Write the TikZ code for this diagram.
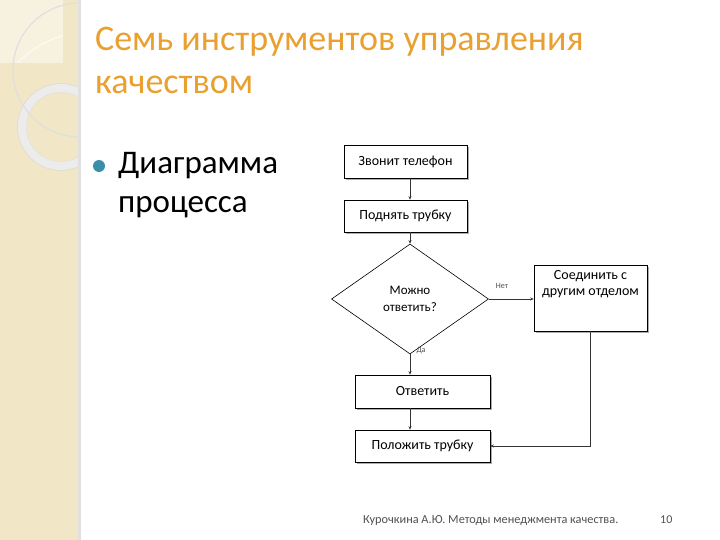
\documentclass[tikz,border=0pt]{standalone}
\usepackage{fontspec}
\setmainfont{Carlito}
\usetikzlibrary{shapes.geometric,shadows,arrows.meta}
\definecolor{titleorange}{RGB}{234,160,48}
\definecolor{bulletteal}{RGB}{58,142,168}
\definecolor{stripbeige}{RGB}{241,231,199}
\definecolor{footgray}{RGB}{80,80,80}
\tikzstyle{stepbox}=[rectangle,draw=black,fill=white,line width=0.6pt,
                     drop shadow={shadow xshift=1.8pt,shadow yshift=-1.8pt,
                                  fill=black!40,opacity=0.8},
                     inner sep=2pt,font=\fontsize{14}{16.5}\selectfont]
\tikzstyle{askbox}=[diamond,draw=black,fill=white,line width=0.6pt,
                    inner sep=0pt,minimum width=157pt,minimum height=110pt,
                    align=center,font=\fontsize{13}{17}\selectfont]
\tikzstyle{flow}=[draw=black!80,line width=0.6pt,-{Stealth[length=3.5pt,width=3pt]}]
\tikzstyle{tiny}=[font=\fontsize{8}{9}\selectfont,text=black!70,inner sep=0pt]

\begin{document}
\begin{tikzpicture}[x=1pt,y=-1pt]
    \useasboundingbox (0,0) rectangle (720,540);
    % left strip
    \fill[stripbeige] (0,0) rectangle (80,540);
    \fill[white!45!stripbeige] (0,0) rectangle (63,63);
    \begin{scope}
      \clip (0,0) rectangle (63,63);
      \draw[white!80!stripbeige,line width=1.2pt] (90,132) circle (100);
    \end{scope}
    \begin{scope}
      \clip (0,0) rectangle (79,540);
      \draw[white!85!gray,line width=8pt] (61,127) circle (39);
      \draw[black!15,line width=0.5pt] (61,127) circle (43.5);
      \draw[black!12,line width=0.5pt] (61,127) circle (34.5);
      \draw[white!75!gray,line width=1.2pt] (80,70) circle (67);
    \end{scope}
    \fill[black!12] (78,0) rectangle (81,540);

    % title and bullet
    \node (title) at (95,94) [anchor=base west,text=titleorange,
          font=\fontsize{36}{43}\selectfont,align=left,inner sep=0pt]
          {Семь инструментов управления\\качеством};
    \node (dot) at (99,166) [circle,fill=bulletteal,inner sep=0pt,minimum size=12pt]{};
    \node (item) at (118,212) [anchor=base west,font=\fontsize{33}{39}\selectfont,
          align=left,inner sep=0pt] {Диаграмма\\процесса};

    % flowchart
    \node (ring)   at (405.5,161.5) [stepbox,minimum width=123pt,minimum height=33pt]{Звонит телефон};
    \node (lift)   at (405.5,216)   [stepbox,minimum width=123pt,minimum height=32pt]{Поднять трубку};
    \node (ask)    at (410,299)     [askbox]{Можно\\ответить?};
    \node (other)  at (590.5,298)   [stepbox,minimum width=113pt,minimum height=66pt,
                                     align=center,text depth=30pt]{Соединить с\\другим отделом};
    \node (answer) at (422.5,391.5) [stepbox,minimum width=135pt,minimum height=33pt]{Ответить};
    \node (hangup) at (422.5,446)   [stepbox,minimum width=135pt,minimum height=32pt]{Положить трубку};
    \coordinate (turn) at (other.south |- hangup.east);

    \draw[flow] (ring.south -| ask.north) -- (lift.north -| ask.north);
    \draw[flow] (lift.south -| ask.north) -- (ask.north);
    \draw[flow] (ask.east) -- (other.west |- ask.east);
    \draw[flow] (ask.south) -- (answer.north -| ask.south);
    \draw[flow] (answer.south -| ask.south) -- (hangup.north -| ask.south);
    \draw[flow] (other.south) -- (turn) -- (hangup.east);

    \node (no)  at (502,286) [tiny]{Нет};
    \node (yes) at (421,351) [tiny]{Да};

    % footer
    \node (foot) at (363,523) [anchor=base west,text=footgray,
          font=\fontsize{12.3}{14}\selectfont,inner sep=0pt]
          {Курочкина А.Ю. Методы менеджмента качества.};
    \node (page) at (660,523) [anchor=base west,text=footgray,
          font=\fontsize{12}{14}\selectfont,inner sep=0pt]{10};
\end{tikzpicture}
\end{document}
